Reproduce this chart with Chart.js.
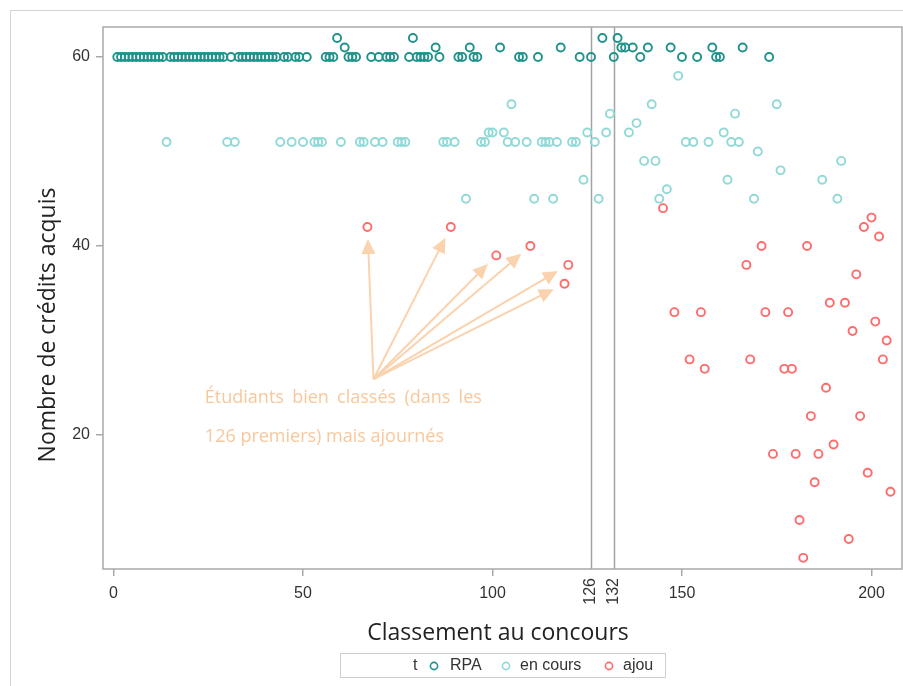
<!DOCTYPE html>
<html>
<head>
<meta charset="utf-8">
<script src="https://cdn.jsdelivr.net/npm/chart.js@4.4.1/dist/chart.umd.min.js"></script>
<style>
  html, body { margin: 0; padding: 0; background: #fff; overflow: hidden; }
  canvas { display: block; }
</style>
</head>
<body>
<canvas id="chart" width="903" height="686"></canvas>
<script>
// rank in the competition (x) and credits acquired (y), per status
var rpaRank = [1,2,3,4,5,6,7,8,9,10,11,12,13,15,16,17,18,19,20,21,22,23,24,25,26,27,28,29,31,
  33,34,35,36,37,38,39,40,41,42,43,45,46,48,49,51,56,57,58,62,63,64,68,70,72,73,74,78,80,81,82,83,
  86,91,92,95,96,107,108,112,123,126,132,139,150,154,159,160,173,
  61,85,94,102,118,134,135,137,141,147,158,166,
  59,79,129,133];
var rpaCredits = [60,60,60,60,60,60,60,60,60,60,60,60,60,60,60,60,60,60,60,60,60,60,60,60,60,60,60,60,60,
  60,60,60,60,60,60,60,60,60,60,60,60,60,60,60,60,60,60,60,60,60,60,60,60,60,60,60,60,60,60,60,60,
  60,60,60,60,60,60,60,60,60,60,60,60,60,60,60,60,60,
  61,61,61,61,61,61,61,61,61,61,61,61,
  62,62,62,62];

var enCoursRank = [14,30,32,44,47,50,53,54,55,60,65,66,69,71,75,76,77,87,88,90,97,98,104,106,109,
  113,114,115,117,121,122,127,151,153,157,163,165,
  99,100,103,125,130,136,161,
  138, 131,164, 105,142,175, 149, 170, 140,143,192, 176, 124,162,187, 146,
  93,111,116,128,144,169,191];
var enCoursCredits = [51,51,51,51,51,51,51,51,51,51,51,51,51,51,51,51,51,51,51,51,51,51,51,51,51,
  51,51,51,51,51,51,51,51,51,51,51,51,
  52,52,52,52,52,52,52,
  53, 54,54, 55,55,55, 58, 50, 49,49,49, 48, 47,47,47, 46,
  45,45,45,45,45,45,45];

var ajouRank = [67,89,101,110,119,120,145,148,152,155,156,167,168,171,172,174,177,178,179,180,
  181,182,183,184,185,186,188,189,190,193,194,195,196,197,198,199,200,201,202,203,204,205];
var ajouCredits = [42,42,39,40,36,38,44,33,28,33,27,38,28,40,33,18,27,33,27,18,
  11,7,40,22,15,18,25,34,19,34,9,31,37,22,42,16,43,32,41,28,30,14];

var xTicks = [0, 50, 100, 150, 200];
var yTicks = [20, 40, 60];
var refRanks = [126, 132];
var seriesNames = ['RPA', 'en cours', 'ajou'];
var seriesColors = ['#1f938b', '#91d9d6', '#ff6b6b'];

// the well-ranked but failed students the note points at
var flaggedRanks = ajouRank.filter(function (r) { return r <= 126; });

function toPoints(xs, ys) {
  return xs.map(function (x, i) { return { x: x, y: ys[i] }; });
}

var tickFont = { family: "'Liberation Sans', Arial, sans-serif", size: 16 };
var titleFont = "23px 'Open Sans', 'Noto Sans', sans-serif";
var noteFont = "18px 'Open Sans', 'Noto Sans', sans-serif";

var extras = {
  id: 'extras',
  beforeDatasetsDraw: function (chart) {
    var ctx = chart.ctx, xs = chart.scales.x, a = chart.chartArea;
    ctx.save();
    ctx.strokeStyle = '#a3a3a3';
    ctx.lineWidth = 1.5;
    refRanks.forEach(function (r) {
      var px = Math.round(xs.getPixelForValue(r)) + 0.5;
      ctx.beginPath();
      ctx.moveTo(px, a.top);
      ctx.lineTo(px, a.bottom);
      ctx.stroke();
    });
    ctx.restore();
  },
  afterDraw: function (chart) {
    var ctx = chart.ctx, xs = chart.scales.x, ys = chart.scales.y, a = chart.chartArea;
    ctx.save();

    // outer frame and plot frame
    ctx.strokeStyle = '#d4d4d4';
    ctx.lineWidth = 1;
    ctx.strokeRect(10.5, 10.5, 1000, 1000);
    ctx.strokeStyle = '#a9a9a9';
    ctx.lineWidth = 1.5;
    ctx.strokeRect(a.left, a.top, a.right - a.left, a.bottom - a.top);

    // rotated labels of the reference lines
    ctx.fillStyle = '#333';
    ctx.font = '16px ' + tickFont.family;
    refRanks.forEach(function (r) {
      ctx.save();
      ctx.translate(xs.getPixelForValue(r), a.bottom + 9);
      ctx.rotate(-Math.PI / 2);
      ctx.textAlign = 'right';
      ctx.textBaseline = 'middle';
      ctx.fillText(String(r), 0, 0);
      ctx.restore();
    });

    // arrows
    var sx = xs.getPixelForValue(68.6), sy = ys.getPixelForValue(25.9);
    ctx.strokeStyle = '#fbd2ae';
    ctx.fillStyle = '#fbd2ae';
    ctx.lineWidth = 2;
    flaggedRanks.forEach(function (r) {
      var i = ajouRank.indexOf(r);
      var tx = xs.getPixelForValue(r), ty = ys.getPixelForValue(ajouCredits[i]);
      var dx = tx - sx, dy = ty - sy, len = Math.sqrt(dx * dx + dy * dy);
      var ux = dx / len, uy = dy / len;
      var ex = tx - ux * 12, ey = ty - uy * 12;
      var bx = ex - ux * 15, by = ey - uy * 15;
      ctx.beginPath();
      ctx.moveTo(sx, sy);
      ctx.lineTo(bx + ux * 2, by + uy * 2);
      ctx.stroke();
      ctx.beginPath();
      ctx.moveTo(ex, ey);
      ctx.lineTo(bx - uy * 7, by + ux * 7);
      ctx.lineTo(bx + uy * 7, by - ux * 7);
      ctx.closePath();
      ctx.fill();
    });

    // note text, first line justified
    ctx.fillStyle = '#f8c89c';
    ctx.font = noteFont;
    ctx.textBaseline = 'middle';
    ctx.textAlign = 'left';
    var nx = xs.getPixelForValue(24.1);
    var words = 'Étudiants bien classés (dans les'.split(' ');
    var widths = words.map(function (w) { return ctx.measureText(w).width; });
    var total = widths.reduce(function (s, w) { return s + w; }, 0);
    var gap = (277 - total) / (words.length - 1);
    var cx = nx, ly = ys.getPixelForValue(23.9);
    words.forEach(function (w, i) { ctx.fillText(w, cx, ly); cx += widths[i] + gap; });
    ctx.fillText('126 premiers) mais ajournés', nx, ys.getPixelForValue(19.85));

    // axis titles
    ctx.fillStyle = '#222';
    ctx.font = titleFont;
    ctx.textAlign = 'center';
    ctx.textBaseline = 'alphabetic';
    ctx.fillText('Classement au concours', 498, 640);
    ctx.save();
    ctx.translate(55, 325);
    ctx.rotate(-Math.PI / 2);
    ctx.fillText('Nombre de crédits acquis', 0, 0);
    ctx.restore();

    // legend
    ctx.strokeStyle = '#cfcfcf';
    ctx.lineWidth = 1;
    ctx.strokeRect(340.5, 653.5, 325, 24);
    ctx.font = '16px ' + tickFont.family;
    ctx.fillStyle = '#333';
    ctx.textAlign = 'left';
    ctx.textBaseline = 'middle';
    ctx.fillText('t', 413, 666);
    var mx = [434, 506, 609], tx0 = [450, 520, 623];
    seriesNames.forEach(function (n, i) {
      ctx.beginPath();
      ctx.arc(mx[i], 666, 3.6, 0, Math.PI * 2);
      ctx.strokeStyle = seriesColors[i];
      ctx.lineWidth = 1.6;
      ctx.stroke();
      ctx.fillStyle = '#333';
      ctx.fillText(n, tx0[i], 666);
    });
    ctx.restore();
  }
};

function dataset(label, xs, ys, color) {
  return {
    label: label,
    data: toPoints(xs, ys),
    borderColor: color,
    backgroundColor: 'rgba(0,0,0,0)',
    pointRadius: 4,
    pointBorderWidth: 1.9,
    pointHoverRadius: 4,
    showLine: false
  };
}

var ctx = document.getElementById('chart');
var chart = new Chart(ctx, {
  type: 'scatter',
  data: {
    datasets: [
      dataset(seriesNames[0], rpaRank, rpaCredits, seriesColors[0]),
      dataset(seriesNames[1], enCoursRank, enCoursCredits, seriesColors[1]),
      dataset(seriesNames[2], ajouRank, ajouCredits, seriesColors[2])
    ]
  },
  options: {
    responsive: false,
    animation: false,
    layout: { autoPadding: false, padding: { left: 0, right: 1, top: 27, bottom: 0 } },
    plugins: { legend: { display: false }, tooltip: { enabled: false } },
    scales: {
      x: {
        type: 'linear',
        min: -2.77,
        max: 208.05,
        afterBuildTicks: function (s) { s.ticks = xTicks.map(function (v) { return { value: v }; }); },
        afterFit: function (s) { s.height = 117; s.paddingLeft = 0; s.paddingRight = 0; },
        ticks: { font: tickFont, color: '#333', padding: 8, maxRotation: 0 },
        grid: { drawOnChartArea: false, drawTicks: true, tickLength: 7, color: '#a9a9a9', lineWidth: 1.5 },
        border: { display: false }
      },
      y: {
        type: 'linear',
        min: 5.82,
        max: 63.17,
        afterBuildTicks: function (s) { s.ticks = yTicks.map(function (v) { return { value: v }; }); },
        afterFit: function (s) { s.width = 103; s.paddingTop = 0; s.paddingBottom = 0; },
        ticks: { font: tickFont, color: '#333', padding: 6 },
        grid: { drawOnChartArea: false, drawTicks: true, tickLength: 7, color: '#a9a9a9', lineWidth: 1.5 },
        border: { display: false }
      }
    }
  },
  plugins: [extras]
});
</script>
</body>
</html>
